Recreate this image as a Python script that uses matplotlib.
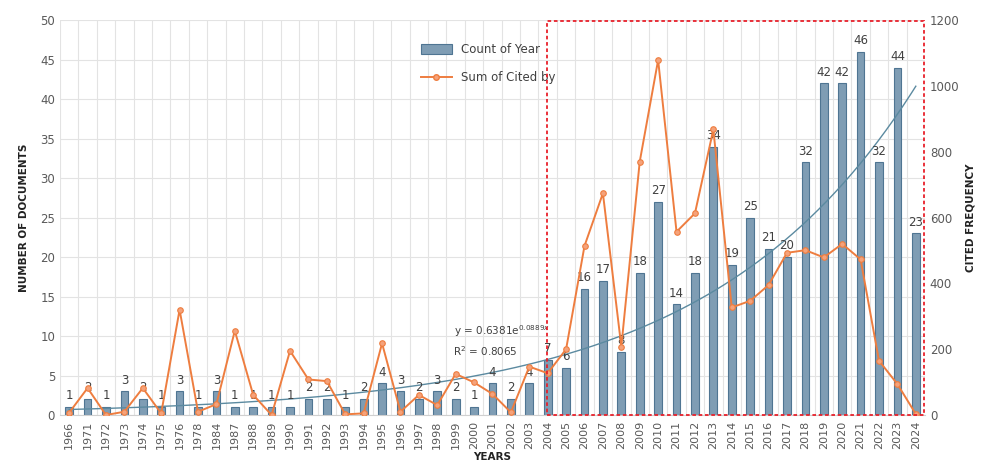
import matplotlib
matplotlib.use("Agg")
import matplotlib.pyplot as plt
import numpy as np
from matplotlib.patches import Rectangle
from matplotlib.lines import Line2D
from matplotlib.patches import Patch

years = ["1966", "1971", "1972", "1973", "1974", "1975", "1976", "1978", "1984", "1987",
         "1988", "1989", "1990", "1991", "1992", "1993", "1994", "1995", "1996", "1997",
         "1998", "1999", "2000", "2001", "2002", "2003", "2004", "2005", "2006", "2007",
         "2008", "2009", "2010", "2011", "2012", "2013", "2014", "2015", "2016", "2017",
         "2018", "2019", "2020", "2021", "2022", "2023", "2024"]
doc_counts = [1, 2, 1, 3, 2, 1, 3, 1, 3, 1,
              1, 1, 1, 2, 2, 1, 2, 4, 3, 2,
              3, 2, 1, 4, 2, 4, 7, 6, 16, 17,
              8, 18, 27, 14, 18, 34, 19, 25, 21, 20,
              32, 42, 42, 46, 32, 44, 23]
cited = [7, 82, 0, 10, 82, 5, 320, 10, 33, 256,
         61, 0, 195, 108, 103, 2, 5, 218, 10, 61,
         30, 125, 99, 64, 8, 147, 127, 200, 514, 674,
         208, 770, 1079, 557, 613, 868, 327, 347, 395, 493,
         501, 479, 520, 473, 165, 94, 3]
trend_a = 0.6381
trend_b = 0.0889

fig = plt.figure(figsize=(9.83, 4.70), dpi=100)
ax = fig.add_axes([0.061, 0.117, 0.880, 0.840])
ax2 = ax.twinx()
ax.set_zorder(1)
ax2.set_zorder(2)
ax.patch.set_visible(True)
ax2.patch.set_visible(False)

x = np.arange(len(years))
bar_face = "#7f9db4"
bar_edge = "#4f7592"
orange = "#ee7d3f"
tick_col = "#595959"

ax.bar(x, doc_counts, width=0.42, color=bar_face, edgecolor=bar_edge, linewidth=0.8, zorder=2)
for xi, v in zip(x, doc_counts):
    ax.text(xi, v + 0.6, str(v), ha="center", va="bottom", fontsize=8.5, color="#404040", zorder=5)

# trend line
xt = np.linspace(0, len(years) - 1, 200)
ax.plot(xt, trend_a * np.exp(trend_b * (xt + 1)), color="#5b8aa0", linewidth=1.0, zorder=3)
ax.text(23.5, 9.6, "y = 0.6381e$^{0.0889x}$", ha="center", va="bottom", fontsize=7.5, color="#404040", zorder=5)
ax.text(22.6, 7.2, "R$^2$ = 0.8065", ha="center", va="bottom", fontsize=7.5, color="#404040", zorder=5)

ax2.plot(x, cited, color=orange, linewidth=1.4, marker="o", markersize=4,
         markerfacecolor="#f5a27a", markeredgecolor=orange, markeredgewidth=0.8, zorder=4)

ax.set_xlim(-0.5, len(years) - 0.5)
ax.set_ylim(0, 50)
ax2.set_ylim(0, 1200)
ax.set_yticks(np.arange(0, 51, 5))
ax2.set_yticks(np.arange(0, 1201, 200))
ax.set_xticks(x)
ax.set_xticklabels(years, rotation=90, fontsize=8, color=tick_col)
ax.tick_params(axis="y", labelsize=8.5, colors=tick_col, length=0)
ax2.tick_params(axis="y", labelsize=8.5, colors=tick_col, length=0)
ax.tick_params(axis="x", length=0, pad=4)

ax.set_xticks(np.arange(-0.5, len(years), 1), minor=True)
ax.grid(which="minor", axis="x", color="#e3e3e3", linewidth=0.8, zorder=0)
ax.grid(which="major", axis="y", color="#e3e3e3", linewidth=0.8, zorder=0)
ax.grid(which="major", axis="x", visible=False)
ax.tick_params(which="minor", length=0)

for a in (ax, ax2):
    for s in a.spines.values():
        s.set_visible(False)
ax.spines["bottom"].set_visible(True)
ax.spines["bottom"].set_color("#d0d0d0")

ax.set_ylabel("NUMBER OF DOCUMENTS", fontsize=7.5, fontweight="bold", color="#222222", labelpad=8)
ax2.set_ylabel("CITED FREQUENCY", fontsize=7.5, fontweight="bold", color="#222222", labelpad=4)
ax.set_xlabel("YEARS", fontsize=7.5, fontweight="bold", color="#222222", labelpad=2)

# red dashed highlight box
ax2.add_patch(Rectangle((25.95, 0), len(years) - 0.5 - 25.95 - 0.05, 1197.6, fill=False,
                        edgecolor="#e8202a", linestyle=(0, (2, 1.5)), linewidth=1.3, zorder=6, clip_on=False))

handles = [Patch(facecolor=bar_face, edgecolor=bar_edge, linewidth=0.8),
           Line2D([0], [0], color=orange, linewidth=1.4, marker="o", markersize=4,
                  markerfacecolor="#f5a27a", markeredgecolor=orange)]
leg = ax2.legend(handles, ["Count of Year", "Sum of Cited by"], loc="upper left",
                 bbox_to_anchor=(0.405, 0.97), frameon=False, fontsize=8.5,
                 handlelength=2.6, handleheight=0.9, labelspacing=1.3, labelcolor="#404040")

fig.savefig("out.png", dpi=100)
